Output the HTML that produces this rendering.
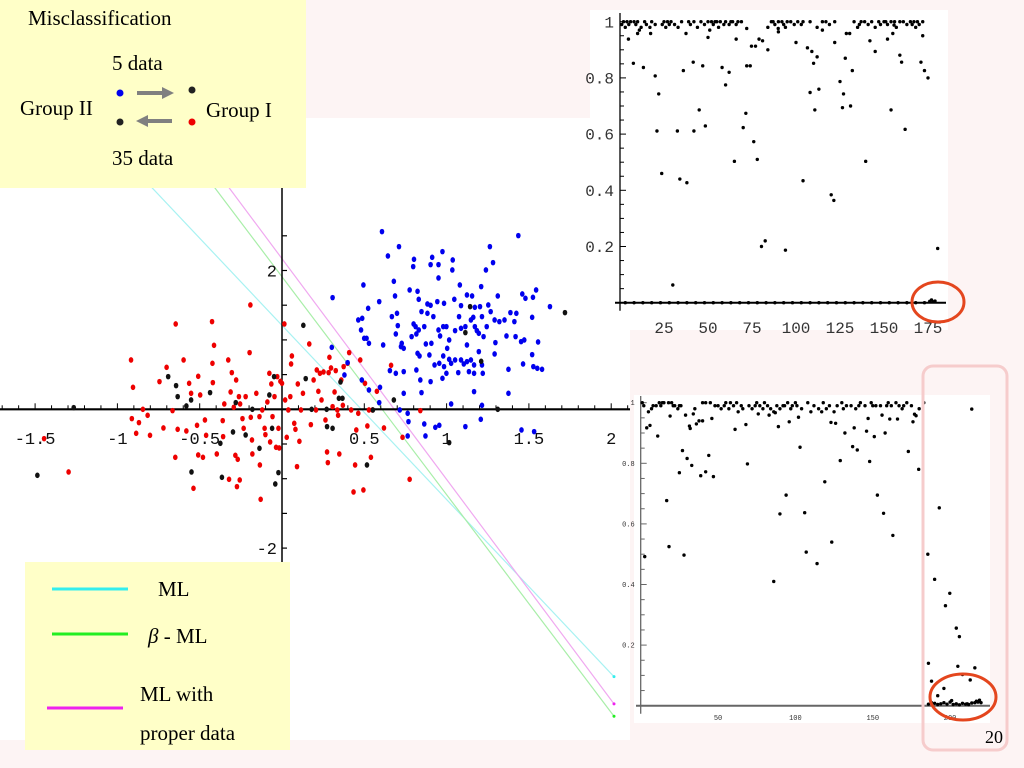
<!DOCTYPE html>
<html><head><meta charset="utf-8"><style>
html,body{margin:0;padding:0;background:#fdf4f4;}
svg{display:block;}
.mono{font-family:"Liberation Mono",monospace;}
.ser{font-family:"Liberation Serif",serif;}
</style></head><body>
<svg id="s" width="1024" height="768" viewBox="0 0 1024 768" xmlns="http://www.w3.org/2000/svg">
<rect x="0" y="0" width="1024" height="768" fill="#fdf4f4"/>
<rect x="0" y="118" width="630" height="622" fill="#fff"/>
<rect x="590" y="10" width="358" height="320" fill="#fff"/>
<rect x="634" y="395" width="356" height="328" fill="#fff"/>
<g id="scatter"></g>
<g id="top"></g>
<g id="bot"></g>
<rect x="923" y="366" width="84" height="384" rx="10" fill="none" stroke="#f6cccc" stroke-width="3"/>
<ellipse cx="938" cy="302" rx="26" ry="20" fill="none" stroke="#e4461e" stroke-width="3"/>
<ellipse cx="963" cy="697" rx="33" ry="23" fill="none" stroke="#e4461e" stroke-width="3"/>
<g>
<rect x="0" y="0" width="306" height="188" fill="#ffffc8"/>
<text x="28" y="25" class="ser" font-size="21">Misclassification</text>
<text x="112" y="70" class="ser" font-size="21">5 data</text>
<text x="20" y="115" class="ser" font-size="21">Group II</text>
<text x="206" y="117" class="ser" font-size="21">Group I</text>
<text x="112" y="165" class="ser" font-size="21">35 data</text>
<circle cx="120" cy="93" r="3.5" fill="#0000ee"/>
<circle cx="192" cy="90" r="3.5" fill="#222"/>
<circle cx="120" cy="122" r="3.5" fill="#222"/>
<circle cx="192" cy="122" r="3.5" fill="#ee0000"/>
<line x1="137" y1="93" x2="164" y2="93" stroke="#808080" stroke-width="4"/>
<polygon points="162,87 174,93 162,99" fill="#808080"/>
<line x1="146" y1="121" x2="172" y2="121" stroke="#808080" stroke-width="4"/>
<polygon points="148,115 136,121 148,127" fill="#808080"/>
</g>
<g>
<rect x="25" y="562" width="265" height="188" fill="#ffffc8"/>
<line x1="52" y1="589" x2="128" y2="589" stroke="#33eeee" stroke-width="3"/>
<text x="158" y="596" class="ser" font-size="21">ML</text>
<line x1="52" y1="634" x2="128" y2="634" stroke="#22ee22" stroke-width="3"/>
<text x="148" y="643" class="ser" font-size="21"><tspan font-style="italic">β</tspan> - ML</text>
<line x1="47" y1="708" x2="123" y2="708" stroke="#ee22ee" stroke-width="3"/>
<text x="140" y="701" class="ser" font-size="21">ML with</text>
<text x="140" y="740" class="ser" font-size="21">proper  data</text>
</g>
<text x="985" y="743" class="ser" font-size="18">20</text>
</svg>
<script>
// ---------- scatter data (data units) ----------
const redX=[330,335,360,332,350,343,372,378,402,412,420,435,443,442,448,463,470,477,482,488,497,500,500,505,512,517,520,535,536,540,537,547,562,563,566,576,578,582,585,590,594,596,598,600,603,605,606,612,615,620,632,630,633,636,637,647,655,656,658,662,668,670,675,680,682,685,688,693,697,700,703,705,708,712,718,720,724,728,733,735,737,743,746,750,752,756,760,765,781,785,792,798,804,808,812,817,822,826,828,832,836,840,845,852,854,857,862,866,868,878,882,887,893,897,900,905,910,918,922,928,932,937,941,952,970,988,1017,1035,1062,172,110,800,830,848];
const redY=[540,622,688,716,728,760,706,766,605,744,562,692,432,832,748,540,753,610,640,925,736,589,825,645,832,720,766,425,550,496,608,822,722,770,672,540,898,636,578,682,826,600,920,838,650,900,672,716,745,650,375,518,712,780,822,640,710,855,958,690,745,764,666,580,786,612,710,650,802,590,745,804,604,610,432,660,772,690,650,552,528,730,748,860,612,784,690,640,492,734,600,690,634,580,660,576,720,816,848,532,564,680,636,690,706,822,600,676,560,550,518,690,936,855,750,700,540,930,610,738,690,832,690,634,744,556,772,898,692,876,776,570,578,572];
const blueX=[965,980,1008,1046,1044,1088,1092,1108,1108,1118,1144,1143,1228,1238,1246,1310,918,840,995,998,1035,1055,1058,1080,1088,1105,1122,1148,1162,1165,1180,1193,1200,1216,1213,1234,1258,1320,1328,1347,1355,1390,930,958,990,1003,1005,1000,1013,1015,1020,1045,1050,1040,1052,1058,1065,1072,1076,1080,1090,1095,1108,1112,1120,1128,1135,1130,1150,1160,1165,1176,1180,1190,1196,1200,1205,1210,1218,1222,1230,1240,1250,1252,1262,1275,1280,1290,1300,1305,1303,1317,1325,1345,1360,905,915,912,920,926,932,838,878,968,1055,1060,1085,1098,1110,1120,1122,1135,1140,1150,1165,1172,1180,1190,1198,1210,1218,1250,1285,1322,1345,1348,1358,1370,1000,1020,1052,1062,1088,1118,1128,1158,1185,1198,1220,985,870,914,932,960,958,1020,1065,1198,1285,1140,1218,1010,1030,1032,1072,1100,1110,1176,1215,1030,1075,1318,1350];
const blueY=[155,228,200,238,260,254,232,254,294,215,240,270,270,200,248,167,315,353,304,348,330,334,358,372,376,365,370,358,315,377,345,348,382,320,380,375,348,342,355,352,330,380,385,365,410,400,437,462,500,490,505,432,440,470,462,450,395,440,492,400,490,410,450,468,440,440,480,505,452,410,445,440,495,420,412,440,452,460,410,470,440,395,420,488,425,420,468,398,425,400,470,485,480,412,486,420,415,450,475,475,490,502,548,495,520,528,525,555,550,528,560,538,550,540,540,552,545,540,555,515,555,522,568,552,524,560,565,568,580,575,570,600,605,595,580,578,575,580,580,572,585,600,630,622,668,640,638,635,640,672,676,690,700,725,732,742,736,740,718,768,768,750,755];
const blackX=[1188,1428,1176,1216,766,424,444,448,530,482,470,595,637,692,680,772,860,856,865,825,787,942,995,1258,588,620,556,687,826,840,655,927,483,560,703,695,93,1135,185];
const blackY=[380,398,458,544,436,590,617,650,638,660,678,668,688,590,645,596,606,655,655,688,688,690,660,688,756,765,790,745,740,745,805,855,876,892,878,912,886,788,683];
// separating lines: intercept/slope in data units (y = a + b x)
const lineNames=['ml','beta-ml','ml-proper'];
const lineA=[1.21,1.91,2.17];
const lineB=[-2.51,-3.14,-3.18];
const lineColors=['#a8f2f2','#a8eea8','#f0a8f0'];
const lineEndColors=['#33eeee','#22ee22','#ee22ee'];

// ---------- top chart data ----------
const topX=[7.6,13.3,10,20,22,21,23.7,30,32.6,34,36,38,37.5,41.6,42,45,47,48.5,50,58,60,62,65,66,70,71.5,72,74,74.7,77,76,78,79,80.4,81,82.5,84,94,100,104,106.5,109,108,110,112,113,110.7,120,121.5,122,125,127,126.4,128,131,132,139.6,142,145,154,159,160,162,171,173,175,180.5,172,152,155,128.6,130.5,90,89.9,51,4.8,11,17.4,72,115,155.7];
const topY=[.852,.837,.958,.807,.743,.611,.46,.063,.611,.44,.826,.427,.958,.856,.611,.686,.843,.629,.944,.837,.775,.82,.503,.938,.623,.674,.843,.843,.913,.913,.573,.51,.938,.2,.932,.22,.9,.187,.926,.434,.907,.894,.748,.852,.875,.76,.686,.384,.364,.926,.787,.743,.694,.87,.7,.826,.503,.932,.894,.686,.881,.856,.617,.856,.826,.8,.193,.95,.938,.958,.958,.958,.964,.976,.97,.938,.97,.958,.976,.97,.988];
const topOneX=[1,2,3,4,5,6,8,9,10,12,14,15,17,18,20,24,25,26,27,28,29,31,33,35,39,40,42,44,46,48,50,52,53,54,55,56,57,59,60,62,63,64,66,67,69,84,86,87,88,90,92,93,94,95,97,99,101,103,104,108,112,115,117,119,122,133,135,136,137,139,141,143,145,147,148,150,151,152,154,156,157,159,161,163,165,166,167,168,169,170,172];
const topOneY=[.99,1,.98,1,.99,1,1,.99,1,.98,1,.99,.98,1,.99,.99,1,.98,1,.99,1,.99,.98,1,1,.99,1,.98,1,.99,1,1,.99,1,1,.98,1,.99,1,.99,1,1,.99,1,1,.98,1,1,.99,1,1,.99,.98,1,1,.99,1,.99,1,1,.98,1,1,.99,1,1,.98,.99,1,1,.99,1,.98,1,.99,1,1,.99,1,1,.98,1,1,.99,1,.99,1,.98,1,.99,1];
const topZeroX=[3,8,13,18,23,28,33,38,43,48,53,58,63,68,73,78,83,88,93,98,103,108,113,118,123,128,133,138,143,148,153,158,163,168,173,176,177,178,179];
const topZeroY=[0,0,0,0,0,0,0,0,0,0,0,0,0,0,0,0,0,0,0,0,0,0,0,0,0,0,0,0,0,0,0,0,0,0,0,.005,.01,.003,.006];
const topXTicks=[25,50,75,100,125,150,175];
const topYTicks=[0.2,0.4,0.6,0.8,1];

// ---------- bottom chart data ----------
const botX=[2.6,3.9,6,11,16.8,18.3,19,25,27,28,29,30,31.5,32,33,34,35,36,37.7,38.8,40,42,44,46,47,61,68,69,76,83,86,87,89,90,94,96,102,103,106,107,114,119,123,123.5,126,129,132,137,138,140,146,147,148,151,153,156,157,158,161,163,166,173,176,177,178,179.7,185.6,186,188,190,192,193,196,197,199.8,201,204,205,206,208,213,214,216];
const botY=[.492,.917,.925,.89,.677,.525,.956,.769,.842,.497,.959,.816,.923,.915,.793,.963,.98,.93,.94,.759,.94,.772,.826,.948,.756,.912,.928,.798,.963,.959,.41,.967,.921,.633,.695,.937,.952,.853,.637,.507,.469,.739,.935,.54,.932,.809,.9,.855,.917,.844,.906,.948,.806,.888,.695,.959,.635,.9,.946,.562,.946,.839,.937,.962,.957,.78,.5,.14,.081,.417,.033,.653,.057,.33,.371,.017,.256,.13,.228,.103,.085,.979,.125];
const botOneX=[1,2,5,7,8,10,12,13,14,15,18,20,21,22,24,25,26,40,42,45,48,50,52,54,55,57,58,60,62,63,65,66,70,72,74,75,77,79,80,82,84,86,88,90,92,93,95,97,98,100,101,104,108,110,112,115,117,118,120,122,125,127,130,131,133,136,139,141,142,145,149,150,152,155,159,160,162,165,167,169,170,172,175,180,183];
const botOneY=[1,.99,.97,.98,.99,.99,1,.99,1,1,1,1,.99,.99,.98,.99,.99,1,1,1,.99,.99,.98,.99,1,.98,1,.99,1,.97,.99,.98,.99,.98,.99,1,.99,.98,1,.99,.98,.97,.99,.98,.99,.99,1,.98,.99,1,.99,.98,1,.97,.99,.98,.97,1,.98,.99,.97,.99,1,.98,.99,.99,.98,.99,1,.99,1,.99,.99,.99,.99,1,.99,1,.99,.98,.99,1,.99,.98,1];
const botZeroX=[186,188,190,192,194,196,198,200,202,204,206,208,210,211,212,214,216,217,218,219,220];
const botZeroY=[.005,.01,.008,.004,.006,.01,.005,.012,.004,.006,.003,.008,.005,.006,.004,.009,.01,.015,.012,.018,.01];
const botXTicks=[50,100,150,200];
const botYTicks=[0.2,0.4,0.6,0.8,1];

const NS='http://www.w3.org/2000/svg';
function mk(tag,attrs,parent){const e=document.createElementNS(NS,tag);for(const k in attrs)e.setAttribute(k,attrs[k]);parent.appendChild(e);return e;}

// ---- scatter ----
const sg=document.getElementById('scatter');
const sx0=282, sxU=164.6, sy0=409.3, syU=69.4;
const SX=v=>sx0+v*sxU, SY=v=>sy0-v*syU;
const dXr=z=>(z-712)/416.5, dYr=z=>(688-z)/208.2;
// lines
for(let i=0;i<lineA.length;i++){
  const x1=-1.0,x2=2.017;
  const l=mk('line',{x1:SX(x1),y1:SY(lineA[i]+lineB[i]*x1),x2:SX(x2),y2:SY(lineA[i]+lineB[i]*x2),stroke:lineColors[i],'stroke-width':1.2},sg);
  
  
  const d=mk('circle',{cx:SX(x2),cy:SY(lineA[i]+lineB[i]*x2),r:1.5,fill:lineEndColors[i]},sg);
  
  
}
// axes
const xa=mk('line',{x1:0,y1:sy0,x2:630,y2:sy0,stroke:'#000','stroke-width':2.2},sg);


const ya=mk('line',{x1:sx0,y1:188,x2:sx0,y2:568,stroke:'#000','stroke-width':1.5},sg);


for(let t=-17;t<=21;t++){const x=SX(t/10);if(x<0||x>630)continue;mk('line',{x1:x,y1:sy0,x2:x,y2:sy0-(t%5===0?6:4),stroke:'#000','stroke-width':1},sg);}
for(let t=-4;t<=5;t++){if(t===0)continue;const y=SY(t/2);if(y<188||y>566)continue;mk('line',{x1:sx0,y1:y,x2:sx0+5,y2:y,stroke:'#000','stroke-width':1.2},sg);}
const sxLab=[-1.5,-1,-0.5,0.5,1,1.5,2];
sxLab.forEach(v=>{const t=mk('text',{x:SX(v),y:444,'text-anchor':'middle','font-size':17,class:'mono',fill:'#111'},sg);t.textContent=String(v);

});
[2,-2].forEach(v=>{const t=mk('text',{x:sx0-5,y:SY(v)+6,'text-anchor':'end','font-size':17,class:'mono',fill:'#111'},sg);t.textContent=String(v);

});
function dots(xs,ys,col,name){for(let i=0;i<xs.length;i++){const e=mk('ellipse',{cx:SX(dXr(xs[i])),cy:SY(dYr(ys[i])),rx:2.3,ry:2.8,fill:col},sg);

}}
dots(redX,redY,'#ee0000','group-i-point');
dots(blueX,blueY,'#0000ee','group-ii-point');
dots(blackX,blackY,'#111','misclassified-point');

// ---- chart helper ----
function chart(gid,x0,xU,y0,yU,xL,xR,yT,xt,yt,fs,tickCol,series,labY){
  const g=document.getElementById(gid);
  const X=v=>x0+v*xU, Y=v=>y0-v*yU;
  const ax=mk('line',{x1:xL,y1:y0,x2:xR,y2:y0,stroke:tickCol,'stroke-width':2},g);
  
  
  const ay=mk('line',{x1:x0,y1:yT,x2:x0,y2:y0+8,stroke:tickCol,'stroke-width':1.3},g);
  
  
  for(let k=1;k<=20;k++){const y=Y(k*0.05);mk('line',{x1:x0,y1:y,x2:x0+(k%4===0?6:4),y2:y,stroke:tickCol,'stroke-width':1},g);}
  xt.forEach(v=>{const t=mk('text',{x:X(v),y:labY,'text-anchor':'middle','font-size':fs,class:'mono',fill:'#333'},g);t.textContent=v;
  
  });
  yt.forEach(v=>{const t=mk('text',{x:x0-6,y:Y(v)+fs*0.35,'text-anchor':'end','font-size':fs,class:'mono',fill:'#333'},g);t.textContent=(v===1?'1':v.toFixed(1));
  
  });
  series.forEach(s=>{for(let i=0;i<s[0].length;i++){const c=mk('circle',{cx:X(s[0][i]),cy:Y(s[1][i]),r:1.7,fill:'#000'},g);
  
  }});
}
chart('top',620,1.76,302.7,281,615,946,13,topXTicks,topYTicks,16,'#000',[[topX,topY],[topOneX,topOneY],[topZeroX,topZeroY]],333);
chart('bot',640.7,1.547,705.7,303,636,990,396,botXTicks,botYTicks,7,'#666',[[botX,botY],[botOneX,botOneY],[botZeroX,botZeroY]],720);
</script>
</body></html>
